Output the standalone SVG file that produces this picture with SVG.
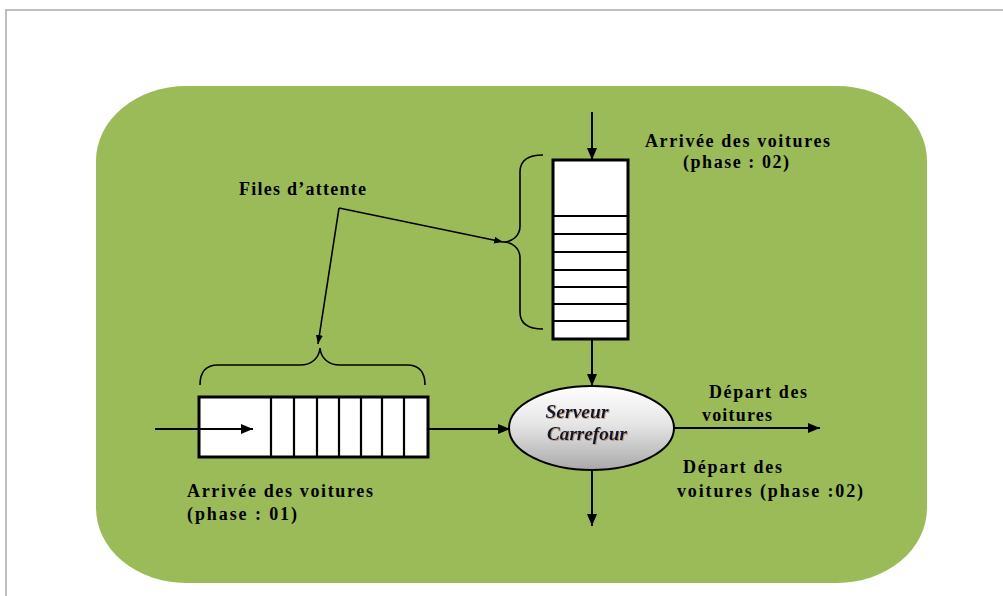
<svg xmlns="http://www.w3.org/2000/svg" width="1003" height="596" viewBox="0 0 1003 596">
<defs>
<marker id="ah" viewBox="0 0 12 10" refX="12" refY="5" markerWidth="12" markerHeight="10" markerUnits="userSpaceOnUse" orient="auto">
<path d="M0,0 L12,5 L0,10 Z" fill="#000"/>
</marker>
<marker id="ahs" viewBox="0 0 9 7" refX="9" refY="3.5" markerWidth="9" markerHeight="7" markerUnits="userSpaceOnUse" orient="auto">
<path d="M0,0 L9,3.5 L0,7 Z" fill="#000"/>
</marker>
<linearGradient id="eg" x1="0" y1="0" x2="0" y2="1">
<stop offset="0" stop-color="#ffffff"/>
<stop offset="0.45" stop-color="#e6e6e6"/>
<stop offset="1" stop-color="#a9a9a9"/>
</linearGradient>
<filter id="ts" x="-10%" y="-30%" width="120%" height="160%">
<feDropShadow dx="0.8" dy="0.8" stdDeviation="0.2" flood-color="#a0703a" flood-opacity="0.7"/>
</filter>
</defs>
<style>
.lbl{font-family:"Liberation Serif","Times New Roman",serif;font-weight:bold;font-size:18px;fill:#000}
.srv{font-family:"Liberation Serif","Times New Roman",serif;font-weight:bold;font-style:italic;font-size:18px;fill:#101530}
.box{fill:#fff;stroke:#000;stroke-width:3}
.div{stroke:#000;stroke-width:2.2;fill:none}
.ln{stroke:#000;stroke-width:2;fill:none}
.thin{stroke:#000;stroke-width:1.6;fill:none}
</style>
<rect x="6" y="10" width="1010" height="600" fill="#fff" stroke="#aaa" stroke-width="1.5"/>
<rect id="background" x="96" y="86" width="831" height="497" rx="90" ry="75" fill="#9BBB59"/>

<g id="queue-vertical">
<rect class="box" x="553" y="160" width="75" height="179"/>
<path class="div" d="M553,216H628M553,234H628M553,252H628M553,270H628M553,287H628M553,304H628M553,321H628"/>
</g>
<g id="brace-vertical">
<path class="thin" d="M543,155 C528,155 520,160 520,172 L520,226 C520,236 512,242 503,242 C512,242 520,248 520,258 L520,312 C520,324 528,329 543,329"/>
</g>

<g id="queue-horizontal">
<rect class="box" x="199" y="397" width="229" height="60"/>
<path class="div" d="M271,397V457M294,397V457M317,397V457M339,397V457M361,397V457M382,397V457M404,397V457"/>
</g>
<g id="brace-horizontal">
<path class="thin" d="M200,385 C200,372 206,365 218,365 L300,365 C312,365 319,358 320,348 C321,358 328,365 340,365 L407,365 C419,365 425,372 425,385"/>
</g>

<g id="server">
<ellipse cx="591.5" cy="428" rx="82.5" ry="42" fill="url(#eg)" stroke="#000" stroke-width="2"/>
<text class="srv" x="577" y="418" text-anchor="middle" filter="url(#ts)" textLength="63" lengthAdjust="spacingAndGlyphs">Serveur</text>
<text class="srv" x="587" y="440" text-anchor="middle" filter="url(#ts)" textLength="80" lengthAdjust="spacingAndGlyphs">Carrefour</text>
</g>

<g id="connectors">
<line class="ln" x1="592" y1="112" x2="592" y2="160" marker-end="url(#ah)"/>
<line class="ln" x1="592" y1="339" x2="592" y2="386" marker-end="url(#ah)"/>
<line class="ln" x1="592" y1="470" x2="592" y2="526" marker-end="url(#ah)"/>
<line class="ln" x1="674" y1="428" x2="820" y2="428" marker-end="url(#ah)"/>
<line class="ln" x1="428" y1="429" x2="510" y2="429" marker-end="url(#ah)"/>
<line class="ln" x1="155" y1="429" x2="253" y2="429" marker-end="url(#ah)"/>
<line class="thin" x1="339" y1="208" x2="503" y2="242" marker-end="url(#ahs)"/>
<line class="thin" x1="339" y1="208" x2="318" y2="344" marker-end="url(#ahs)"/>
</g>

<g id="labels">
<text class="lbl" x="239" y="195" textLength="127" lengthAdjust="spacing">Files d’attente</text>
<text class="lbl" x="645" y="147" textLength="185" lengthAdjust="spacing">Arrivée des voitures</text>
<text class="lbl" x="683" y="168" textLength="106" lengthAdjust="spacing">(phase : 02)</text>
<text class="lbl" x="709" y="398" textLength="98" lengthAdjust="spacing">Départ des</text>
<text class="lbl" x="702" y="421" textLength="70" lengthAdjust="spacing">voitures</text>
<text class="lbl" x="683" y="473" textLength="99" lengthAdjust="spacing">Départ des</text>
<text class="lbl" x="677" y="497" textLength="186" lengthAdjust="spacing">voitures (phase :02)</text>
<text class="lbl" x="187" y="497" textLength="186" lengthAdjust="spacing">Arrivée des voitures</text>
<text class="lbl" x="187" y="520" textLength="110" lengthAdjust="spacing">(phase : 01)</text>
</g>
</svg>
